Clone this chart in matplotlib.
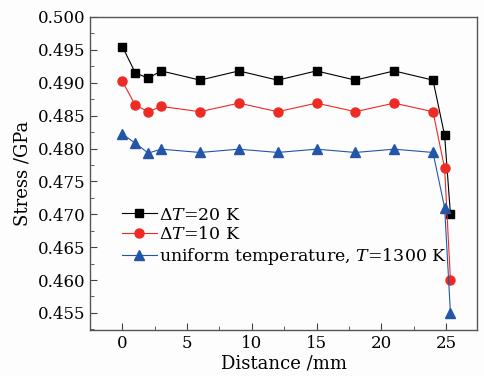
import matplotlib
matplotlib.use("Agg")
import matplotlib.pyplot as plt
from matplotlib.ticker import MultipleLocator

# distances along the sample (mm)
distance = [0, 1, 2, 3, 6, 9, 12, 15, 18, 21, 24, 24.9, 25.35]
distance_uniform = [0, 1, 2, 3, 6, 9, 12, 15, 18, 21, 24, 24.9, 25.35]

stress_dt20 = [0.4955, 0.4915, 0.4907, 0.4918, 0.4904, 0.4918, 0.4904,
               0.4918, 0.4904, 0.4918, 0.4904, 0.4820, 0.4700]
stress_dt10 = [0.4902, 0.4866, 0.4856, 0.4864, 0.4856, 0.4869, 0.4856,
               0.4869, 0.4856, 0.4869, 0.4856, 0.4770, 0.4600]
stress_uniform = [0.4822, 0.4808, 0.4793, 0.4799, 0.4794, 0.4799, 0.4794,
                  0.4799, 0.4794, 0.4799, 0.4794, 0.4710, 0.4550]

labels = [r"$\Delta T$=20 K", r"$\Delta T$=10 K",
          r"uniform temperature, $T$=1300 K"]

plt.rcParams["font.family"] = ["DejaVu Serif"]
plt.rcParams["mathtext.fontset"] = "dejavuserif"

fig = plt.figure(figsize=(4.84, 3.76), dpi=100)
fig.patch.set_facecolor("#fdfdfd")
ax = fig.add_axes([0.186, 0.1223, 0.7995, 0.8325])
ax.set_facecolor("#fdfdfd")

ax.plot(distance, stress_dt20, color="black", marker="s", ms=6, lw=0.8, label=labels[0])
ax.plot(distance, stress_dt10, color="#ee2a24", marker="o", ms=6.5, lw=0.8, label=labels[1])
ax.plot(distance_uniform, stress_uniform, color="#2356a8", marker="^", ms=6.5, lw=0.8, label=labels[2])

ax.set_xlim(-2.5, 27.4)
ax.set_ylim(0.4524, 0.500)
ax.xaxis.set_major_locator(MultipleLocator(5))
ax.xaxis.set_minor_locator(MultipleLocator(2.5))
ax.yaxis.set_major_locator(MultipleLocator(0.005))
ax.yaxis.set_minor_locator(MultipleLocator(0.0025))
ax.yaxis.set_major_formatter(matplotlib.ticker.FormatStrFormatter("%.3f"))
ax.tick_params(which="both", direction="in", top=False, right=False, labelsize=12, color="#444444")
ax.tick_params(which="major", length=5)
ax.tick_params(which="minor", length=3)
for s in ax.spines.values():
    s.set_color("#555555")
    s.set_linewidth(1)

ax.set_xlabel("Distance /mm", fontsize=13, labelpad=2)
ax.set_ylabel("Stress /GPa", fontsize=13, labelpad=4)

ax.legend(loc="lower left", bbox_to_anchor=(0.065, 0.18), frameon=False, fontsize=12.5,
          handlelength=2.0, handletextpad=0.1, labelspacing=0.15, borderaxespad=0)

fig.savefig("out.png", dpi=100, facecolor=fig.get_facecolor())
